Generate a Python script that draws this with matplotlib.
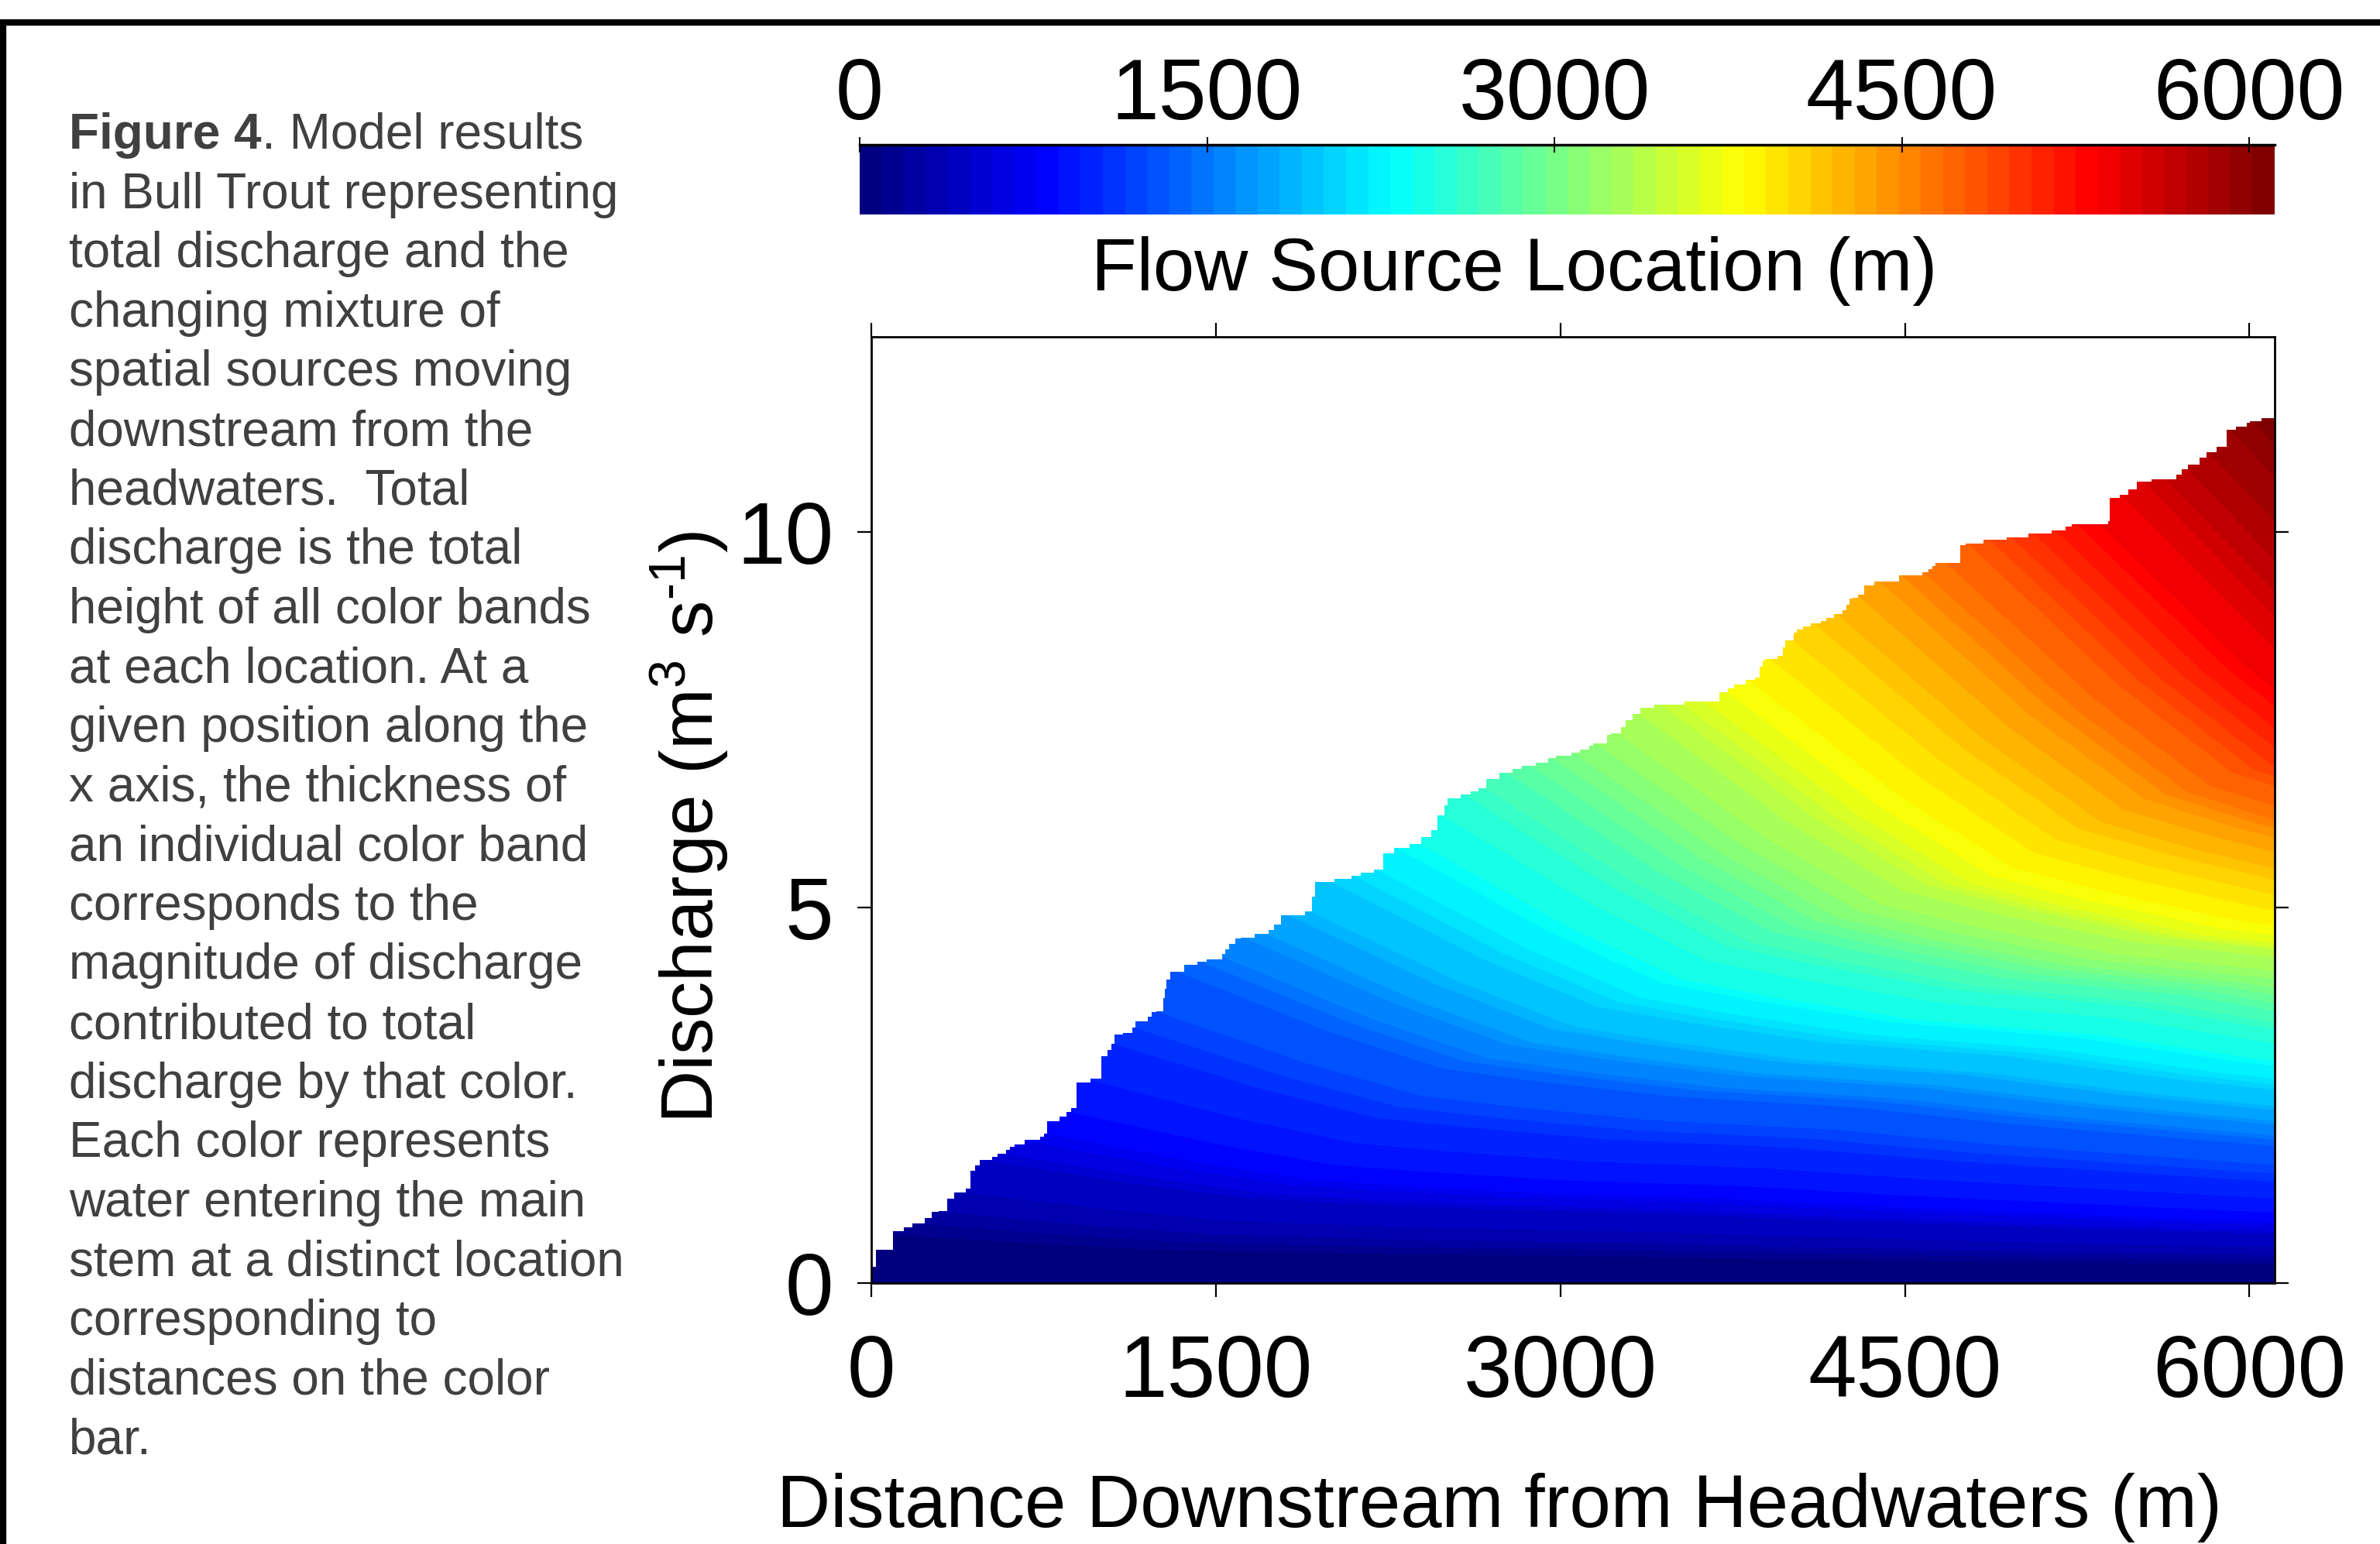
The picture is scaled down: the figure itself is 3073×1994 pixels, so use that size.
import numpy as np
import matplotlib
matplotlib.use("Agg")
import matplotlib.pyplot as plt
from matplotlib.colors import ListedColormap, Normalize
from matplotlib.patches import Rectangle

# Total discharge profile (staircase): start of each flat step (m) and its level (m3/s)
step_start = [0, 21, 93, 140, 179, 232, 262, 292, 330, 360, 412, 431, 452, 473, 525,
              550, 586, 605, 623, 668, 736, 752, 766, 819, 850, 870, 894, 954, 1003,
              1030, 1045, 1060, 1097, 1135, 1150, 1203, 1220, 1240, 1271, 1278, 1285,
              1301, 1361, 1421, 1459, 1526, 1542, 1557, 1585, 1609, 1670, 1730, 1755,
              1783, 1888, 1918, 1933, 2017, 2091, 2132, 2189, 2228, 2275, 2344, 2395,
              2438, 2464, 2494, 2510, 2567, 2610, 2645, 2679, 2734, 2791, 2834, 2894,
              2946, 2980, 3049, 3084, 3127, 3144, 3204, 3221, 3264, 3285, 3316, 3350,
              3410, 3540, 3691, 3729, 3755, 3806, 3849, 3866, 3880, 3892, 3944, 3970,
              3978, 4015, 4030, 4056, 4090, 4133, 4159, 4193, 4228, 4245, 4258, 4271,
              4297, 4322, 4366, 4474, 4575, 4604, 4620, 4633, 4742, 4763, 4843, 4944,
              5038, 5140, 5198, 5227, 5385, 5393, 5437, 5473, 5509, 5574, 5683, 5704,
              5733, 5784, 5813, 5856, 5900, 5943, 5987, 6001, 6052]
step_q = [0.22, 0.44, 0.69, 0.74, 0.79, 0.87, 0.95, 0.96, 1.12, 1.21, 1.26, 1.50, 1.57,
          1.64, 1.68, 1.72, 1.77, 1.81, 1.85, 1.91, 1.95, 1.99, 2.16, 2.22, 2.28, 2.33,
          2.67, 2.72, 3.02, 3.10, 3.19, 3.31, 3.33, 3.40, 3.49, 3.55, 3.61, 3.62, 3.79,
          3.92, 4.04, 4.14, 4.24, 4.28, 4.31, 4.38, 4.44, 4.52, 4.59, 4.60, 4.65, 4.70,
          4.77, 4.90, 4.95, 5.15, 5.34, 5.38, 5.42, 5.46, 5.51, 5.72, 5.79, 5.85, 5.94,
          6.03, 6.23, 6.35, 6.44, 6.50, 6.54, 6.58, 6.70, 6.78, 6.84, 6.88, 6.92, 6.98,
          7.01, 7.05, 7.09, 7.15, 7.18, 7.29, 7.31, 7.39, 7.49, 7.57, 7.65, 7.69, 7.73,
          7.86, 7.91, 7.96, 8.02, 8.05, 8.20, 8.28, 8.30, 8.34, 8.45, 8.55, 8.65, 8.69,
          8.73, 8.77, 8.81, 8.85, 8.90, 8.95, 9.02, 9.10, 9.12, 9.16, 9.28, 9.33, 9.41,
          9.45, 9.50, 9.54, 9.58, 9.82, 9.84, 9.89, 9.92, 9.97, 10.01, 10.06, 10.09,
          10.14, 10.44, 10.49, 10.56, 10.66, 10.69, 10.75, 10.83, 10.89, 10.98, 11.05,
          11.13, 11.35, 11.39, 11.45, 11.47, 11.51]

# share of the flow entered upstream of a point that is still in the channel,
# against distance travelled since entry (read off the colour bands)
keep_dist = [0, 650, 1150, 1550, 2150, 2950, 3650, 5100, 6110]
keep_frac = [1.0, 0.81, 0.69, 0.65, 0.60, 0.565, 0.51, 0.42, 0.38]

x_max = 6110
q_max = 12.6
x_ticks = [0, 1500, 3000, 4500, 6000]
y_ticks = [0, 5, 10]

caption_lines = [
    "in Bull Trout representing",
    "total discharge and the",
    "changing mixture of",
    "spatial sources moving",
    "downstream from the",
    "headwaters.  Total",
    "discharge is the total",
    "height of all color bands",
    "at each location. At a",
    "given position along the",
    "x axis, the thickness of",
    "an individual color band",
    "corresponds to the",
    "magnitude of discharge",
    "contributed to total",
    "discharge by that color.",
    "Each color represents",
    "water entering the main",
    "stem at a distinct location",
    "corresponding to",
    "distances on the color",
    "bar.",
]

plt.rcParams["font.family"] = ["Liberation Sans", "DejaVu Sans"]
plt.rcParams["mathtext.fontset"] = "custom"
plt.rcParams["mathtext.rm"] = "Liberation Sans"
plt.rcParams["mathtext.it"] = "Liberation Sans"


def matlab_jet(n=64):
    v = np.linspace(0, 1, n)
    r = np.interp(v, [0, 3 / 8, 5 / 8, 7 / 8, 1], [0, 0, 1, 1, 0.5])
    g = np.interp(v, [0, 1 / 8, 3 / 8, 5 / 8, 7 / 8, 1], [0, 0, 1, 1, 0, 0])
    b = np.interp(v, [0, 1 / 8, 3 / 8, 5 / 8, 1], [0.5, 1, 1, 0, 0])
    cm = ListedColormap(np.column_stack([r, g, b]))
    cm.set_bad((1, 1, 1, 0))
    return cm


W, H = 3073, 1994
fig = plt.figure(figsize=(W / 100, H / 100), dpi=100)

# source-location field under the discharge curve
sx = np.array(step_start, dtype=float)
sq = np.array(step_q, dtype=float)
nx, ny = 1812, 1222
xc = (np.arange(nx) + 0.5) / nx * x_max
qc = (np.arange(ny) + 0.5) / ny * q_max
Qx = sq[np.searchsorted(sx, xc, side="right") - 1]

# cumulative flow from sources upstream of s still present at x
dist = np.clip(xc[None, :] - xc[:, None], 0, None)
cum = Qx[:, None] * np.interp(dist, keep_dist, keep_frac)

src = np.full((ny, nx), np.nan)
for i in range(nx):
    col = np.interp(qc, cum[: i + 1, i], xc[: i + 1])
    src[:, i] = np.where(qc <= Qx[i], col, np.nan)

cmap = matlab_jet(64)
norm = Normalize(vmin=0, vmax=x_max)

ax = fig.add_axes([1125 / W, 1 - 1657 / H, 1812 / W, 1222 / H])
im = ax.imshow(src, origin="lower", extent=[0, x_max, 0, q_max], aspect="auto",
               cmap=cmap, norm=norm, interpolation="nearest")
ax.set_xlim(0, x_max)
ax.set_ylim(0, q_max)
ax.set_xticks(x_ticks)
ax.set_yticks(y_ticks)
ax.tick_params(direction="out", length=13, width=1.6, labelsize=81,
               top=True, right=True)
ax.tick_params(axis="x", pad=34)
ax.tick_params(axis="y", pad=22)
for sp in ax.spines.values():
    sp.set_linewidth(2)

# colorbar
cax = fig.add_axes([1110 / W, 1 - 277 / H, 1827 / W, 90 / H])
cb = fig.colorbar(im, cax=cax, orientation="horizontal", ticks=x_ticks)
cb.outline.set_visible(False)
cax.xaxis.set_ticks_position("top")
cax.tick_params(axis="x", direction="inout", length=15, width=1.4, labelsize=80, pad=0)
cax.plot([0, 1], [1, 1], transform=cax.transAxes, color="black", lw=2.5, clip_on=False)

# axis labels
fig.text(1955 / W, 1 - 375 / H, "Flow Source Location (m)", ha="center",
         va="baseline", fontsize=69)
fig.text(1936 / W, 1 - 1972 / H, "Distance Downstream from Headwaters (m)",
         ha="center", va="baseline", fontsize=69)
fig.text(890 / W, 1 - 1068 / H, r"Discharge (m$^{3}$ s$^{\text{-}1}$)", rotation=90,
         ha="center", va="center", fontsize=68)

# caption
cap_color = "#404040"
cap_size = 46
x0 = 89 / W
line_step = 76.6
renderer = fig.canvas.get_renderer()
t = fig.text(x0, 1 - 192 / H, "Figure 4", fontsize=cap_size, fontweight="bold",
             color=cap_color, va="baseline")
bb = t.get_window_extent(renderer)
fig.text(bb.x1 / W, 1 - 192 / H, ". Model results", fontsize=cap_size,
         color=cap_color, va="baseline")
for i, line in enumerate(caption_lines):
    y = 192 + (i + 1) * line_step
    fig.text(x0, 1 - y / H, line, fontsize=cap_size, color=cap_color, va="baseline")

# outer frame
fig.add_artist(Rectangle((4 / W, -0.05), 1.1, 1.05 - 29 / H, transform=fig.transFigure,
                         fill=False, edgecolor="black", linewidth=6))

fig.savefig("out.png", dpi=100)
